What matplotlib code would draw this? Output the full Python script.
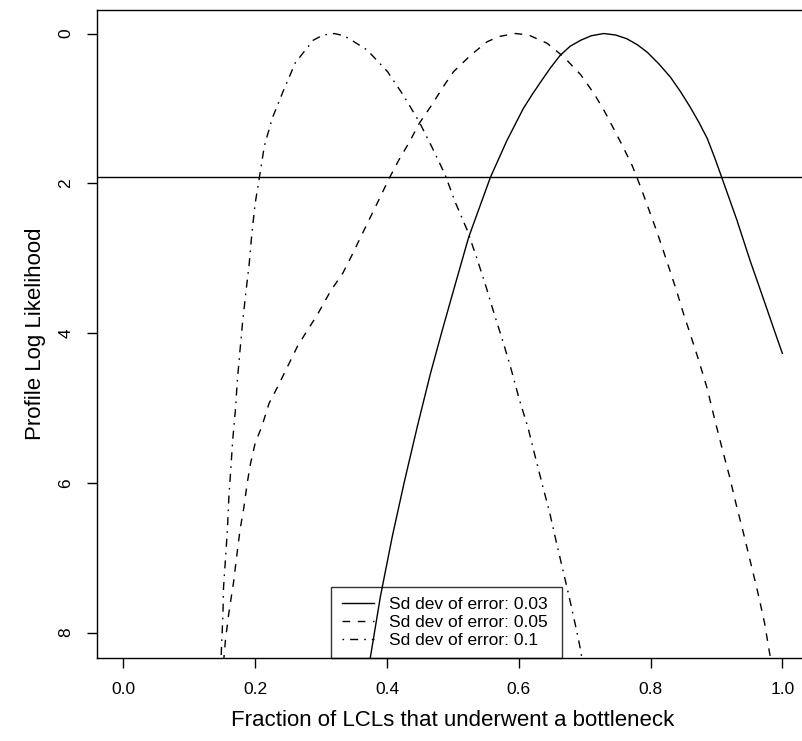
import matplotlib
matplotlib.use("Agg")
import matplotlib.pyplot as plt

plt.rcParams['font.family'] = ['Liberation Sans', 'DejaVu Sans']

# profile log likelihood curves
sd03_x = [0.373, 0.375, 0.390, 0.408, 0.426, 0.446, 0.466, 0.484, 0.501, 0.524,
          0.557, 0.582, 0.607, 0.620, 0.633, 0.648, 0.663, 0.678, 0.694, 0.710,
          0.729, 0.747, 0.764, 0.780, 0.795, 0.812, 0.830, 0.845, 0.860, 0.873,
          0.886, 0.897, 0.908, 0.931, 0.951, 0.972, 0.992, 1.000]
sd03_y = [8.40, 8.32, 7.52, 6.72, 6.00, 5.25, 4.54, 3.96, 3.43, 2.72,
          1.92, 1.43, 1.00, 0.82, 0.65, 0.46, 0.29, 0.17, 0.09, 0.03,
          0.00, 0.02, 0.07, 0.15, 0.25, 0.40, 0.58, 0.77, 0.98, 1.18,
          1.40, 1.65, 1.92, 2.49, 3.03, 3.56, 4.07, 4.27]

sd05_x = [0.152, 0.155, 0.160, 0.167, 0.172, 0.177, 0.183, 0.188, 0.193, 0.200,
          0.210, 0.221, 0.234, 0.249, 0.264, 0.278, 0.294, 0.315, 0.333, 0.348,
          0.360, 0.375, 0.390, 0.403, 0.418, 0.434, 0.449, 0.466, 0.487, 0.501,
          0.527, 0.552, 0.570, 0.595, 0.615, 0.643, 0.668, 0.694, 0.714, 0.729,
          0.744, 0.758, 0.772, 0.785, 0.797, 0.809, 0.819, 0.830, 0.840, 0.850,
          0.859, 0.873, 0.886, 0.897, 0.908, 0.920, 0.930, 0.941, 0.952, 0.963,
          0.973, 0.981, 0.984]
sd05_y = [8.40, 8.09, 7.74, 7.34, 6.98, 6.63, 6.32, 6.00, 5.74, 5.47,
          5.25, 4.94, 4.72, 4.45, 4.18, 3.98, 3.76, 3.43, 3.20, 2.94,
          2.72, 2.45, 2.18, 1.94, 1.69, 1.45, 1.20, 0.98, 0.69, 0.51,
          0.29, 0.11, 0.04, 0.00, 0.02, 0.13, 0.31, 0.55, 0.80, 1.02,
          1.27, 1.51, 1.76, 2.05, 2.34, 2.63, 2.89, 3.18, 3.45, 3.74,
          3.98, 4.36, 4.74, 5.14, 5.52, 5.92, 6.29, 6.67, 7.07, 7.47,
          7.87, 8.29, 8.40]

sd10_x = [0.148, 0.149, 0.151, 0.152, 0.155, 0.158, 0.160, 0.163, 0.166, 0.170,
          0.173, 0.177, 0.181, 0.186, 0.191, 0.195, 0.200, 0.207, 0.214, 0.226,
          0.243, 0.261, 0.288, 0.303, 0.320, 0.335, 0.350, 0.370, 0.401, 0.426,
          0.449, 0.469, 0.488, 0.504, 0.522, 0.536, 0.550, 0.563, 0.577, 0.589,
          0.601, 0.614, 0.625, 0.636, 0.647, 0.657, 0.668, 0.678, 0.687, 0.692,
          0.697]
sd10_y = [8.40, 8.18, 7.79, 7.40, 7.01, 6.61, 6.21, 5.82, 5.42, 5.03,
          4.63, 4.23, 3.85, 3.45, 3.07, 2.67, 2.27, 1.89, 1.50, 1.13,
          0.76, 0.39, 0.09, 0.02, 0.00, 0.03, 0.11, 0.22, 0.51, 0.84,
          1.18, 1.53, 1.88, 2.26, 2.63, 2.99, 3.37, 3.75, 4.14, 4.50,
          4.89, 5.26, 5.65, 6.03, 6.40, 6.79, 7.20, 7.58, 7.94, 8.15,
          8.40]

cutoff = 1.92
labels = ["Sd dev of error: 0.03", "Sd dev of error: 0.05", "Sd dev of error: 0.1"]
xticks = [0.0, 0.2, 0.4, 0.6, 0.8, 1.0]
yticks = [0, 2, 4, 6, 8]

W, H = 802, 741
fig = plt.figure(figsize=(W / 100, H / 100), dpi=100)
# plot region is wider than the image on the right, as in the source
ax = fig.add_axes([97 / W, 1 - 658 / H, 711.7 / W, 648 / H])

lw = 1.0
ax.plot(sd03_x, sd03_y, color='black', lw=lw, label=labels[0])
ax.plot(sd05_x, sd05_y, color='black', lw=lw, linestyle=(0, (5.5, 5.5)), label=labels[1])
ax.plot(sd10_x, sd10_y, color='black', lw=lw, linestyle=(0, (1.2, 4.3, 5.8, 4.3)), label=labels[2])
ax.axhline(cutoff, color='black', lw=lw)

ax.set_xlim(-0.04, 1.04)
ax.set_ylim(8.338, -0.314)
ax.set_xticks(xticks)
ax.set_xticklabels([f"{v:.1f}" for v in xticks])
ax.set_yticks(yticks)
ax.set_yticklabels([str(v) for v in yticks], rotation=90, va='center')
ax.tick_params(axis='both', length=7.2, width=lw, pad=9.8, labelsize=12.5, color='black')

for s in ax.spines.values():
    s.set_linewidth(lw)

ax.set_xlabel("Fraction of LCLs that underwent a bottleneck", fontsize=16, labelpad=9.4)
ax.set_ylabel("Profile Log Likelihood", fontsize=16, labelpad=8.6)

leg = ax.legend(loc='lower left', bbox_to_anchor=(0.329, 0.0, 0.324, 0.131), mode='expand',
                fontsize=12.5, frameon=True, fancybox=False, borderaxespad=0,
                handlelength=1.85, handletextpad=0.9, borderpad=0.6, labelspacing=0.15)
leg.get_frame().set_edgecolor('black')
leg.get_frame().set_facecolor('none')
leg.get_frame().set_linewidth(lw)

fig.savefig("out.png", dpi=100)
